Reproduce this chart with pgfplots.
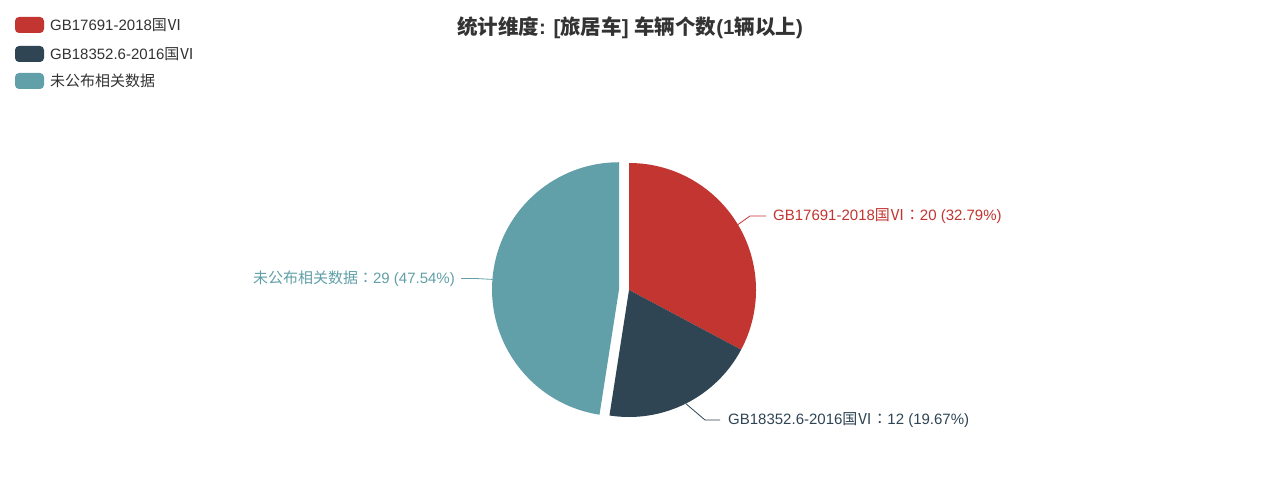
\documentclass[border=0pt]{standalone}
\usepackage{pgfplots}
\pgfplotsset{compat=1.18}
\usepackage{pgfplotstable}
\usepackage{fontspec}
\setmainfont{Liberation Sans}
\newfontfamily\cjk{Noto Sans CJK SC}
\newfontfamily\cjkc{Noto Sans CJK TC}% centred full-width colon
\definecolor{cA}{HTML}{C23531}
\definecolor{cB}{HTML}{2F4554}
\definecolor{cC}{HTML}{61A0A8}
\definecolor{cText}{HTML}{333333}

% slice values, in echarts order (clockwise from 12 o'clock)
\pgfplotstableread{
value
20
12
29
}\piedata

\newcommand{\fs}[1]{\fontsize{#1bp}{#1bp}\selectfont}

\begin{document}
\begin{tikzpicture}
% --- angles from the data ---
\pgfplotstablegetelem{0}{value}\of\piedata \let\va\pgfplotsretval
\pgfplotstablegetelem{1}{value}\of\piedata \let\vb\pgfplotsretval
\pgfplotstablegetelem{2}{value}\of\piedata \let\vc\pgfplotsretval
\pgfmathsetmacro\tot{\va+\vb+\vc}
\pgfmathsetmacro\eA{360*\va/\tot}
\pgfmathsetmacro\eB{\eA+360*\vb/\tot}
\def\cx{629}\def\cy{290}\def\R{127}
% centre, start point, arc angles and mid-edge point of each slice
\def\mkslice#1#2#3#4{% name, start, end, offset
  \pgfmathsetmacro\m{(#2+#3)/2}%
  \pgfmathsetmacro\ox{\cx+#4*sin(\m)}%
  \pgfmathsetmacro\oy{\cy-#4*cos(\m)}%
  \expandafter\xdef\csname #1ox\endcsname{\ox}%
  \expandafter\xdef\csname #1oy\endcsname{\oy}%
  \pgfmathsetmacro\t{\ox+\R*sin(#2)}\expandafter\xdef\csname #1sx\endcsname{\t}%
  \pgfmathsetmacro\t{\oy-\R*cos(#2)}\expandafter\xdef\csname #1sy\endcsname{\t}%
  \pgfmathsetmacro\t{90-#2}\expandafter\xdef\csname #1a\endcsname{\t}%
  \pgfmathsetmacro\t{90-#3}\expandafter\xdef\csname #1b\endcsname{\t}%
  \pgfmathsetmacro\t{\ox+\R*sin(\m)}\expandafter\xdef\csname #1mx\endcsname{\t}%
  \pgfmathsetmacro\t{\oy-\R*cos(\m)}\expandafter\xdef\csname #1my\endcsname{\t}%
}
\mkslice{A}{0}{\eA}{0}
\mkslice{B}{\eA}{\eB}{0}
\mkslice{C}{\eB}{360}{10}

\begin{axis}[
  scale only axis,
  width=1268bp, height=481bp,
  xmin=0, xmax=1268, ymin=0, ymax=481,
  y dir=reverse,
  hide axis,
  clip=false,
]
  \fill[white] (rel axis cs:0,0) rectangle (rel axis cs:1,1);

  % slices
  \fill[cA] (axis cs:\Aox,\Aoy) -- (axis cs:\Asx,\Asy) arc[start angle=\Aa, end angle=\Ab, radius=\R bp] -- cycle;
  \fill[cB] (axis cs:\Box,\Boy) -- (axis cs:\Bsx,\Bsy) arc[start angle=\Ba, end angle=\Bb, radius=\R bp] -- cycle;
  \fill[cC] (axis cs:\Cox,\Coy) -- (axis cs:\Csx,\Csy) arc[start angle=\Ca, end angle=\Cb, radius=\R bp] -- cycle;

  % label lines and labels
  \draw[cA, line width=0.8pt] (axis cs:\Amx,\Amy) -- (axis cs:750,216) -- (axis cs:766,216);
  \node[anchor=west, text=cA, inner sep=0pt, font=\fs{15}] at (axis cs:773,216) {GB17691-2018{\cjk 国Ⅵ}{\cjkc ：}20 (32.79\%)};
  \draw[cB, line width=0.8pt] (axis cs:\Bmx,\Bmy) -- (axis cs:705,420) -- (axis cs:720,420);
  \node[anchor=west, text=cB, inner sep=0pt, font=\fs{15}] at (axis cs:728,420) {GB18352.6-2016{\cjk 国Ⅵ}{\cjkc ：}12 (19.67\%)};
  \draw[cC, line width=0.8pt] (axis cs:\Cmx,\Cmy) -- (axis cs:476,278.5) -- (axis cs:461,278.5);
  \node[anchor=east, text=cC, inner sep=0pt, font=\fs{15}] at (axis cs:455,278.5) {{\cjk 未公布相关数据}{\cjkc ：}29 (47.54\%)};

  % legend
  \fill[cA, rounded corners=4bp] (axis cs:15,17) rectangle (axis cs:44,33);
  \fill[cB, rounded corners=4bp] (axis cs:15,46) rectangle (axis cs:44,62);
  \fill[cC, rounded corners=4bp] (axis cs:15,73) rectangle (axis cs:44,89);
  \node[anchor=west, text=cText, inner sep=0pt, font=\fs{15}] at (axis cs:50,25) {GB17691-2018{\cjk 国Ⅵ}};
  \node[anchor=west, text=cText, inner sep=0pt, font=\fs{15}] at (axis cs:50,54) {GB18352.6-2016{\cjk 国Ⅵ}};
  \node[anchor=west, text=cText, inner sep=0pt, font=\fs{15}] at (axis cs:50,81) {{\cjk 未公布相关数据}};

  % title
  \node[text=cText, inner sep=0pt, font=\fs{20.5}\bfseries] at (axis cs:630,28)
    {{\cjk 统计维度}: [{\cjk 旅居车}] {\cjk 车辆个数}(1{\cjk 辆以上})};
\end{axis}
\end{tikzpicture}
\end{document}
